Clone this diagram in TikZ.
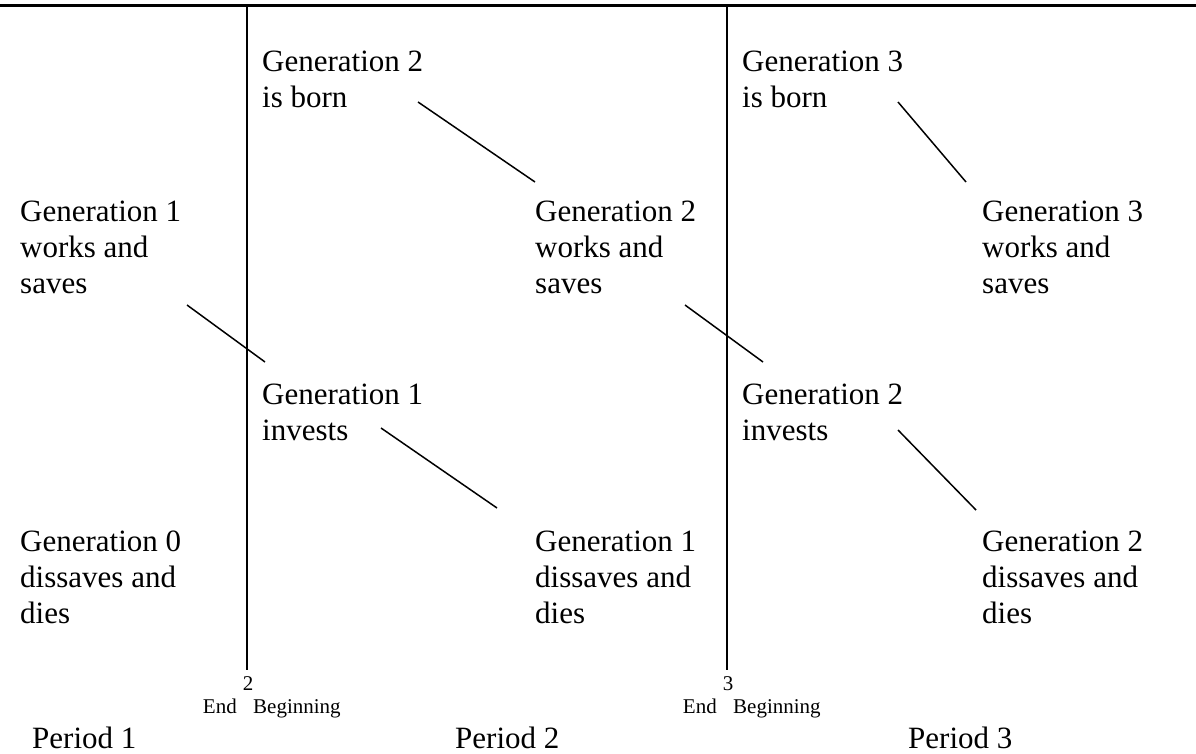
\documentclass[tikz,border=0pt]{standalone}
\usepackage{fontspec}
\setmainfont{Liberation Serif}
\begin{document}
\begin{tikzpicture}[x=1pt,y=-1pt,
  lbl/.style={anchor=base west, inner sep=0pt, align=left, font=\fontsize{31}{36}\selectfont},
  small/.style={inner sep=0pt, font=\fontsize{21}{24}\selectfont},
  link/.style={line width=1.5pt},
  rule/.style={line width=2pt}]
\useasboundingbox (0,0) rectangle (1196,754);
% frame lines
\coordinate (tl) at (0,6);
\coordinate (tr) at (1196,6);
\coordinate (v2t) at (247,6);
\coordinate (v2b) at (247,670);
\coordinate (v3t) at (727,6);
\coordinate (v3b) at (727,670);
\draw[line width=3pt] (tl) -- (tr);
\draw[rule] (v2t) -- (v2b);
\draw[rule] (v3t) -- (v3b);
% text blocks (anchor = baseline of last line)
\node[lbl] (g2born) at (262,108) {Generation 2\\is born};
\node[lbl] (g3born) at (742,108) {Generation 3\\is born};
\node[lbl] (g1works) at (20,293) {Generation 1\\works and\\saves};
\node[lbl] (g2works) at (535,293) {Generation 2\\works and\\saves};
\node[lbl] (g3works) at (982,293) {Generation 3\\works and\\saves};
\node[lbl] (g1inv) at (262,440) {Generation 1\\invests};
\node[lbl] (g2inv) at (742,440) {Generation 2\\invests};
\node[lbl] (g0dies) at (20,623) {Generation 0\\dissaves and\\dies};
\node[lbl] (g1dies) at (535,623) {Generation 1\\dissaves and\\dies};
\node[lbl] (g2dies) at (982,623) {Generation 2\\dissaves and\\dies};
% bottom labels
\node[small, anchor=base] (n2) at (248,690) {2};
\node[small, anchor=base east] (end2) at (237,713) {End};
\node[small, anchor=base west] (beg2) at (253,713) {Beginning};
\node[small, anchor=base] (n3) at (728,690) {3};
\node[small, anchor=base east] (end3) at (717,713) {End};
\node[small, anchor=base west] (beg3) at (733,713) {Beginning};
\node[lbl] (p1) at (32,748) {Period 1};
\node[lbl] (p2) at (455,748) {Period 2};
\node[lbl] (p3) at (908,748) {Period 3};
% connectors
\coordinate (a1) at (418,102); \coordinate (b1) at (535,182);
\coordinate (a2) at (898,102); \coordinate (b2) at (966,182);
\coordinate (a3) at (187,305); \coordinate (b3) at (265,362);
\coordinate (a4) at (685,305); \coordinate (b4) at (763,362);
\coordinate (a5) at (381,428); \coordinate (b5) at (497,508);
\coordinate (a6) at (898,430); \coordinate (b6) at (976,510);
\draw[link] (a1) -- (b1);
\draw[link] (a2) -- (b2);
\draw[link] (a3) -- (b3);
\draw[link] (a4) -- (b4);
\draw[link] (a5) -- (b5);
\draw[link] (a6) -- (b6);
\end{tikzpicture}
\end{document}
